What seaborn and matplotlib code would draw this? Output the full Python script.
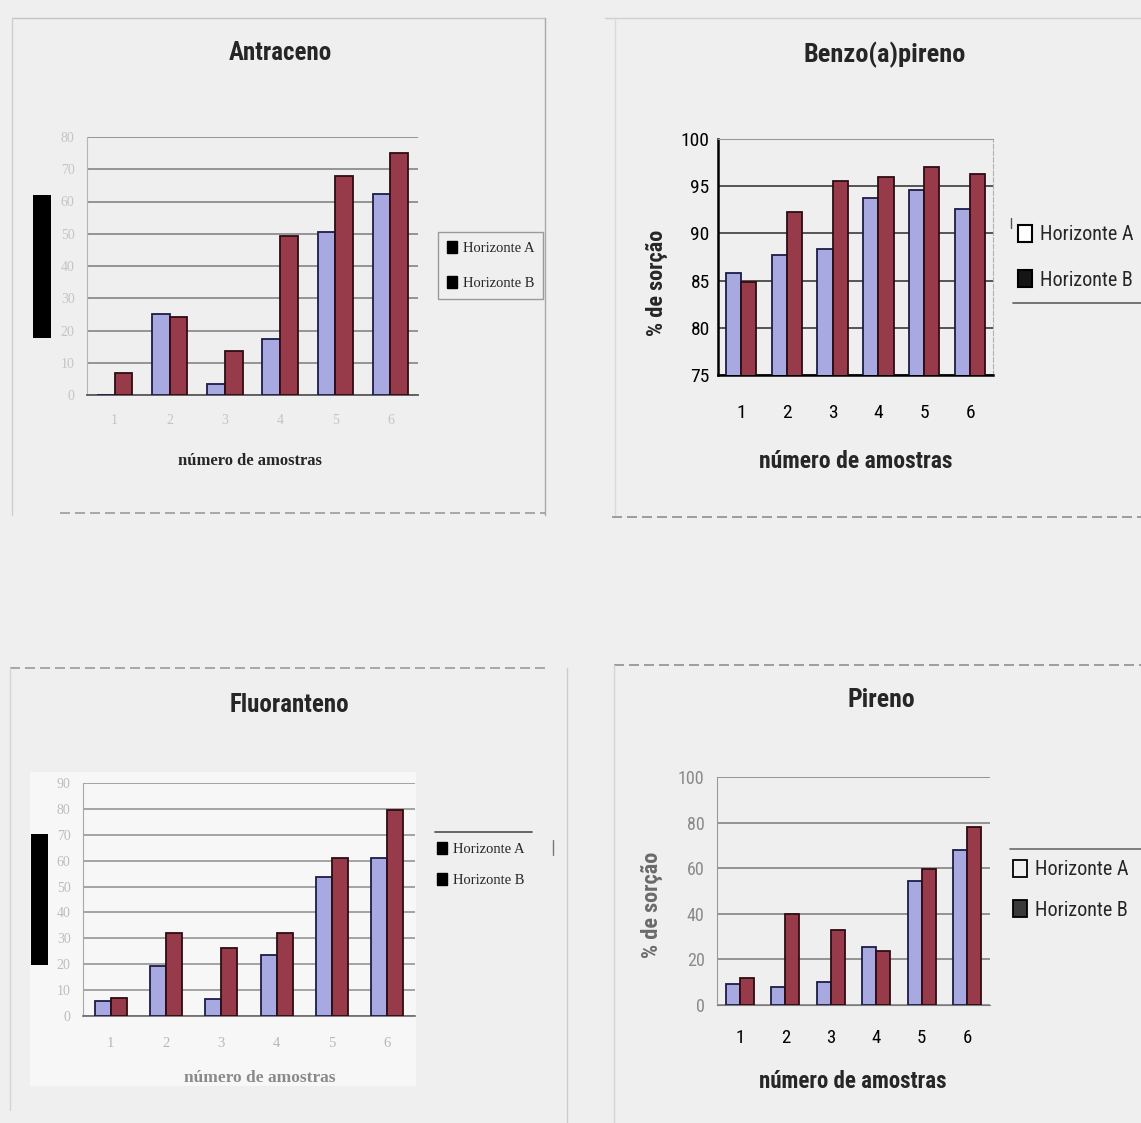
import matplotlib
matplotlib.use("Agg")
import matplotlib.pyplot as plt
import pandas as pd
import seaborn as sns
from matplotlib.patches import Rectangle
from matplotlib.lines import Line2D

# ---- data -------------------------------------------------------------
amostras = ["1", "2", "3", "4", "5", "6"]
horizontes = ["Horizonte A", "Horizonte B"]

antraceno_a = [0.0, 25.2, 3.4, 17.5, 50.6, 62.4]
antraceno_b = [6.9, 24.1, 13.6, 49.4, 68.0, 75.0]

benzo_a = [85.8, 87.7, 88.3, 93.8, 94.6, 92.6]
benzo_b = [84.9, 92.3, 95.6, 96.0, 97.0, 96.3]

fluoranteno_a = [5.9, 19.3, 6.4, 23.5, 53.5, 60.9]
fluoranteno_b = [7.0, 32.2, 26.4, 32.2, 60.9, 79.7]

pireno_a = [9.1, 8.0, 10.2, 25.5, 54.3, 68.2]
pireno_b = [11.7, 40.1, 33.1, 23.8, 59.6, 78.1]

# ---- style ------------------------------------------------------------
sns.set_style("white")
NARROW = ["Roboto Condensed", "DejaVu Sans Condensed", "Liberation Sans Narrow",
          "Arial Narrow", "Liberation Sans", "DejaVu Sans"]
SERIF = ["Liberation Serif", "DejaVu Serif"]
plt.rcParams["font.family"] = NARROW

PAGE = "#efefef"
COL_A = "#a9a9e2"
COL_B = "#973a4a"
EDGE_A = "#1c1c48"
EDGE_B = "#2e0c12"

W, H = 1141, 1123
fig = plt.figure(figsize=(W / 100, H / 100), dpi=100, facecolor=PAGE)
renderer = fig.canvas.get_renderer()


def fx(x):
    return x / W


def fy(y):
    return 1 - y / H


def axes_px(x0, y0, x1, y1):
    return fig.add_axes([fx(x0), fy(y1), fx(x1) - fx(x0), (y1 - y0) / H])


def fig_line(x0, y0, x1, y1, color="#a0a0a0", lw=1.0, ls="-"):
    fig.add_artist(Line2D([fx(x0), fx(x1)], [fy(y0), fy(y1)], color=color,
                          lw=lw, ls=ls, transform=fig.transFigure))


def fig_rect(x0, y0, x1, y1, color, z=0):
    fig.add_artist(Rectangle((fx(x0), fy(y1)), fx(x1) - fx(x0), (y1 - y0) / H,
                             facecolor=color, edgecolor="none",
                             transform=fig.transFigure, zorder=z))


def fit_text(t, max_len, vertical=False):
    """Shrink a text until its extent is no longer than max_len pixels."""
    for _ in range(3):
        bb = t.get_window_extent(renderer)
        size = bb.height if vertical else bb.width
        if size <= max_len:
            break
        t.set_fontsize(t.get_fontsize() * max_len / size)
    return t


def label(x, y, s, size, max_len=None, vertical=False, **kw):
    t = fig.text(fx(x), fy(y), s, ha="center", va="center", fontsize=size,
                 rotation=90 if vertical else 0, **kw)
    if max_len:
        fit_text(t, max_len, vertical)
    return t


def bars(ax, a_vals, b_vals, width):
    df = pd.DataFrame({
        "amostra": amostras * 2,
        "horizonte": [horizontes[0]] * len(amostras) + [horizontes[1]] * len(amostras),
        "valor": list(a_vals) + list(b_vals),
    })
    sns.barplot(data=df, x="amostra", y="valor", hue="horizonte",
                palette=[COL_A, COL_B], width=width, saturation=1,
                legend=False, ax=ax, zorder=3)
    for cont, ec in zip(ax.containers, [EDGE_A, EDGE_B]):
        for p in cont:
            p.set_edgecolor(ec)
            p.set_linewidth(1.3)
    ax.set_facecolor("none")
    ax.set_xlabel("")
    ax.set_ylabel("")
    ax.set_xlim(-0.5, len(amostras) - 0.5)
    ax.set_axisbelow(True)


def legend_px(ax, x, y, handles, fontsize, family, spacing, frame_color):
    leg = ax.legend(handles, horizontes, loc="upper left",
                    bbox_to_anchor=(fx(x), fy(y)), bbox_transform=fig.transFigure,
                    prop={"family": family, "size": fontsize},
                    handlelength=0.7, handleheight=0.9, handletextpad=0.4,
                    labelspacing=spacing, borderpad=0.6, frameon=True,
                    fancybox=False, framealpha=1)
    leg.get_frame().set_facecolor(PAGE)
    leg.get_frame().set_edgecolor(frame_color)
    leg.get_frame().set_linewidth(1.0)
    return leg


# ---- page frames around each chart -----------------------------------
fig_line(12, 18, 545, 18, "#c4c4c4")
fig_line(12, 18, 12, 515, "#cfcfcf")
fig_line(545, 18, 545, 515, "#a8a8a8")
fig_line(60, 513, 545, 513, "#9a9a9a", 1.2, (0, (6, 3)))
fig_line(605, 18, 1141, 18, "#d0d0d0")
fig_line(615, 18, 615, 515, "#dadada")
fig_line(612, 517, 1141, 517, "#8e8e8e", 1.2, (0, (6, 3)))
fig_line(10, 668, 545, 668, "#9a9a9a", 1.2, (0, (6, 3)))
fig_line(10, 668, 10, 1110, "#d4d4d4")
fig_line(567, 668, 567, 1123, "#cccccc")
fig_line(614, 665, 1141, 665, "#909090", 1.2, (0, (6, 3)))
fig_line(614, 665, 614, 1123, "#d4d4d4")

# lighter plot background behind the Fluoranteno chart
fig_rect(30, 772, 416, 1086, "#f7f7f7", z=-1)

# ---- Antraceno -------------------------------------------------------
ax1 = axes_px(87, 137, 418, 395)
bars(ax1, antraceno_a, antraceno_b, 0.64)
ax1.set_ylim(0, 80)
ax1.set_yticks(range(0, 81, 10))
ax1.yaxis.grid(True, color="#858585", lw=1.2)
ax1.tick_params(axis="y", labelsize=10, labelcolor="#c4c4c4", length=3,
                color="#b0b0b0", pad=6)
ax1.tick_params(axis="x", labelsize=10, labelcolor="#c4c4c4", length=0, pad=14)
for lab in ax1.get_xticklabels() + ax1.get_yticklabels():
    lab.set_family(SERIF)
for s in ["top", "right"]:
    ax1.spines[s].set_visible(False)
ax1.spines["left"].set_color("#b5b5b5")
ax1.spines["bottom"].set_color("#5a5a5a")
ax1.spines["bottom"].set_linewidth(1.3)
label(280, 53, "Antraceno", 18, 104, fontweight="bold", family=NARROW)
label(250, 461, "número de amostras", 12, 152, fontweight="bold", family=SERIF)
fig_rect(33, 195, 51, 338, "black", z=5)
blk = [Rectangle((0, 0), 1, 1, facecolor="black", edgecolor="black")] * 2
legend_px(ax1, 431, 225, blk, 10.5, SERIF, 1.45, "#9a9a9a")

# ---- Benzo(a)pireno --------------------------------------------------
ax2 = axes_px(718, 139, 993, 375)
bars(ax2, benzo_a, benzo_b, 0.66)
ax2.set_ylim(75, 100)
ax2.set_yticks(range(75, 101, 5))
ax2.yaxis.grid(True, color="#2a2a2a", lw=1.1)
ax2.tick_params(axis="y", labelsize=14, labelcolor="black", length=0, pad=6)
ax2.tick_params(axis="x", labelsize=14, labelcolor="black", length=0, pad=21)
ax2.spines["top"].set_color("#9a9a9a")
ax2.spines["right"].set_color("#b0b0b0")
ax2.spines["right"].set_linestyle((0, (4, 2)))
for s in ["left", "bottom"]:
    ax2.spines[s].set_color("black")
    ax2.spines[s].set_linewidth(1.8)
label(885, 55, "Benzo(a)pireno", 19, 165, fontweight="bold", family=NARROW)
label(657, 283, "% de sorção", 16, 108, vertical=True, fontweight="bold",
      family=NARROW)
label(856, 462, "número de amostras", 17, 199, fontweight="bold", family=NARROW)
bz = [Rectangle((0, 0), 1, 1, facecolor="white", edgecolor="black", lw=1.5),
      Rectangle((0, 0), 1, 1, facecolor="#151515", edgecolor="black", lw=1.5)]
legend_px(ax2, 996, 203, bz, 14.5, NARROW, 1.28, PAGE)
fig_line(1013, 303, 1141, 303, "#6a6a6a", 1.3)
fig_line(1011, 218, 1011, 228, "#555555", 1.0)

# ---- Fluoranteno -----------------------------------------------------
ax3 = axes_px(83, 783, 415, 1016)
bars(ax3, fluoranteno_a, fluoranteno_b, 0.58)
ax3.set_ylim(0, 90)
ax3.set_yticks(range(0, 91, 10))
ax3.yaxis.grid(True, color="#8c8c8c", lw=1.1)
ax3.tick_params(axis="y", labelsize=10, labelcolor="#bdbdbd", length=0, pad=9)
ax3.tick_params(axis="x", labelsize=10.5, labelcolor="#b8b8b8", length=0, pad=15)
for lab in ax3.get_xticklabels() + ax3.get_yticklabels():
    lab.set_family(SERIF)
for s in ["top", "right"]:
    ax3.spines[s].set_visible(False)
ax3.spines["left"].set_color("#a8a8a8")
ax3.spines["bottom"].set_color("#6a6a6a")
ax3.spines["bottom"].set_linewidth(1.2)
label(289, 705, "Fluoranteno", 18, 121, fontweight="bold", family=NARROW)
label(260, 1078, "número de amostras", 12.5, 152, fontweight="bold",
      color="#8a8a8a", family=SERIF)
fig_rect(31, 834, 48, 965, "black", z=5)
legend_px(ax3, 421, 826, blk, 10.5, SERIF, 1.15, PAGE)
fig_line(435, 832, 532, 832, "#5a5a5a", 1.3)
fig_line(553, 840, 553, 855, "#777777", 1.0)

# ---- Pireno ----------------------------------------------------------
ax4 = axes_px(717, 777, 990, 1005)
bars(ax4, pireno_a, pireno_b, 0.62)
ax4.set_ylim(0, 100)
ax4.set_yticks(range(0, 101, 20))
ax4.yaxis.grid(True, color="#7a7a7a", lw=1.1)
ax4.tick_params(axis="y", labelsize=13, labelcolor="#8a8a8a", length=0, pad=9)
ax4.tick_params(axis="x", labelsize=13.5, labelcolor="black", length=0, pad=17)
for s in ["top", "right"]:
    ax4.spines[s].set_visible(False)
ax4.spines["left"].set_color("#9a9a9a")
ax4.spines["bottom"].set_color("#7a7a7a")
label(881, 700, "Pireno", 18.5, 70, fontweight="bold", family=NARROW)
label(652, 905, "% de sorção", 16, 112, vertical=True, fontweight="bold",
      color="#6a6a6a", family=NARROW)
label(853, 1082, "número de amostras", 16.5, 198, fontweight="bold",
      family=NARROW)
pz = [Rectangle((0, 0), 1, 1, facecolor=PAGE, edgecolor="black", lw=1.3),
      Rectangle((0, 0), 1, 1, facecolor="#3a3a3a", edgecolor="black", lw=1.3)]
legend_px(ax4, 991, 838, pz, 14.5, NARROW, 1.03, PAGE)
fig_line(1010, 849, 1141, 849, "#6a6a6a", 1.2)

fig.savefig("out.png", dpi=100, facecolor=PAGE)
